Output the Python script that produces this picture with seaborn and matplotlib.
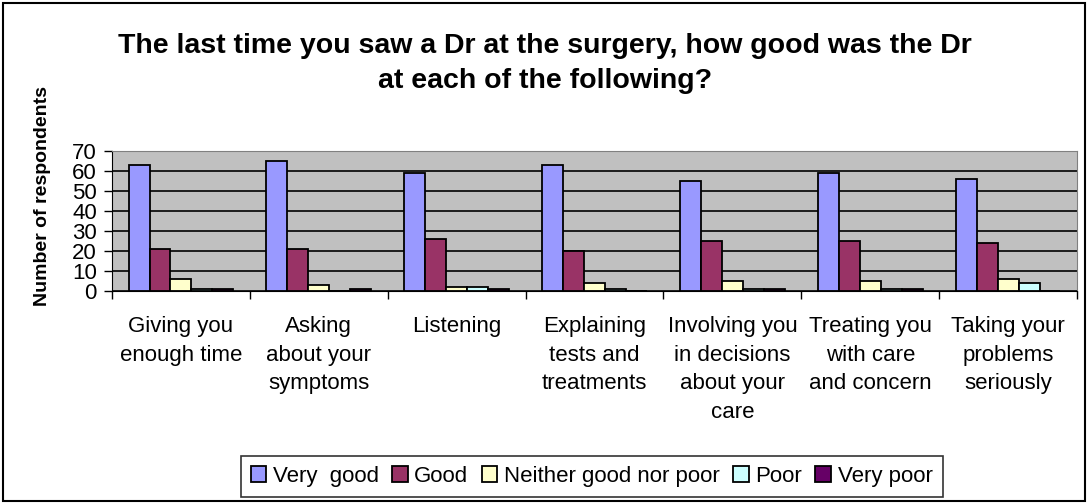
import numpy as np
import pandas as pd
import seaborn as sns
import matplotlib.pyplot as plt
from matplotlib.patches import Rectangle

plt.rcParams['font.family'] = ['Liberation Sans', 'DejaVu Sans']

# survey data
questions = ["Giving you\nenough time", "Asking\nabout your\nsymptoms", "Listening",
             "Explaining\ntests and\ntreatments", "Involving you\nin decisions\nabout your\ncare",
             "Treating you\nwith care\nand concern", "Taking your\nproblems\nseriously"]
ratings = ["Very  good", "Good", "Neither good nor poor", "Poor", "Very poor"]
very_good = [63, 65, 59, 63, 55, 59, 56]
good = [21, 21, 26, 20, 25, 25, 24]
neither = [6, 3, 2, 4, 5, 5, 6]
poor = [1, 0, 2, 1, 1, 1, 4]
very_poor = [1, 1, 1, 0, 1, 1, 0]
colors = ['#9999FF', '#993366', '#FFFFCC', '#CCFFFF', '#660066']

# long format for seaborn
rows = []
for rating, vals in zip(ratings, [very_good, good, neither, poor, very_poor]):
    for q, v in zip(questions, vals):
        rows.append({'question': q, 'rating': rating, 'count': v})
df = pd.DataFrame(rows)

fig = plt.figure(figsize=(10.92, 5.04), dpi=100)
ax = fig.add_axes([0.1026, 0.4226, 0.8837, 0.2784])
ax.set_facecolor('#C0C0C0')

sns.barplot(data=df, x='question', y='count', hue='rating', order=questions,
            hue_order=ratings, palette=colors, saturation=1, width=0.76, gap=0,
            edgecolor='black', linewidth=1.3, errorbar=None, ax=ax)

ax.set_ylim(0, 70)
ax.set_xlim(-0.5, len(questions) - 0.5)
ax.set_yticks(np.arange(0, 71, 10))
ax.yaxis.grid(True, color='black', linewidth=1.2)
ax.set_axisbelow(True)
ax.tick_params(axis='y', labelsize=16, length=6, width=1, pad=5)

# ticks between groups, labels at group centres
ax.set_xticks(np.arange(-0.5, len(questions), 1))
ax.set_xticklabels([])
ax.set_xticks(np.arange(len(questions)), minor=True)
ax.set_xticklabels(questions, minor=True, fontsize=16, linespacing=1.47)
ax.tick_params(axis='x', which='major', length=6, width=1)
ax.tick_params(axis='x', which='minor', length=0, pad=18)
ax.set_xlabel('')
ax.set_ylabel('')

for side in ['top', 'right']:
    ax.spines[side].set_color('#808080')
for side in ['left', 'bottom']:
    ax.spines[side].set_color('black')

handles, labels = ax.get_legend_handles_labels()
ax.get_legend().remove()
fig.legend(handles, labels, loc='center', bbox_to_anchor=(0.5417, 0.0546), ncol=5,
           fontsize=16, frameon=True, fancybox=False, edgecolor='black',
           handlelength=0.7, handleheight=0.7, handletextpad=0.3,
           columnspacing=0.6, borderpad=0.45, borderaxespad=0)
fig.legends[0].get_frame().set_linewidth(1.2)

fig.text(0.499, 0.874, "The last time you saw a Dr at the surgery, how good was the Dr\nat each of the following?",
         ha='center', va='center', fontsize=20.5, fontweight='bold', linespacing=1.45)
fig.text(0.0385, 0.611, "Number of respondents", rotation=90, ha='center', va='center',
         fontsize=14, fontweight='bold')

fig.patches.append(Rectangle((3 / 1092, 3 / 504), 1082 / 1092, 498 / 504, transform=fig.transFigure,
                             fill=False, edgecolor='black', linewidth=1.5))

plt.savefig('out.png', dpi=100)
